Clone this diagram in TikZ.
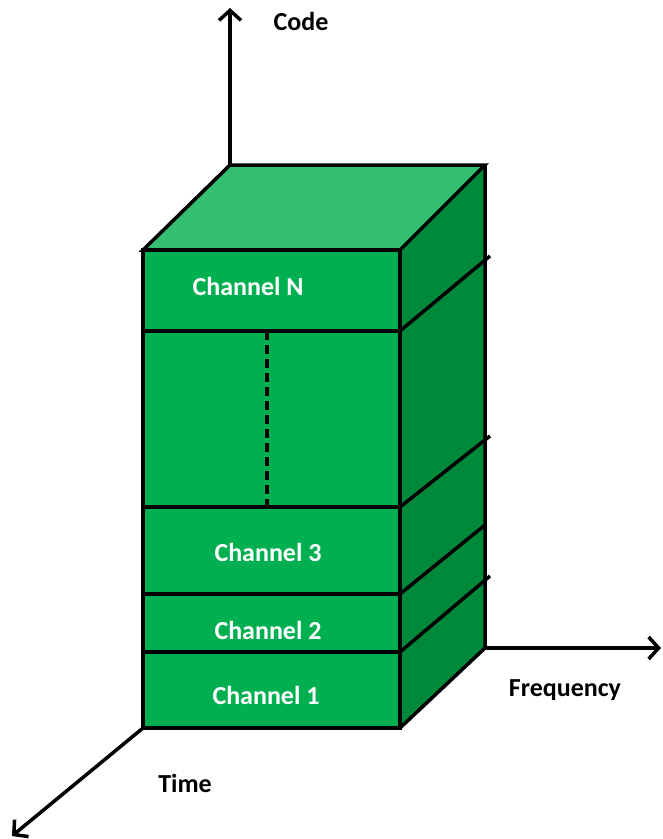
\documentclass[tikz,border=0pt]{standalone}
\usepackage{fontspec}
\setmainfont{Carlito}
\usetikzlibrary{arrows.meta}
\definecolor{frontgreen}{HTML}{00B050}
\definecolor{topgreen}{HTML}{35BD70}
\definecolor{sidegreen}{HTML}{00893A}
\tikzset{
  edge/.style={draw=black, line width=3.5pt},
  axis/.style={black, line width=3.5pt, -{Straight Barb[length=10pt,width=22pt,line width=3.5pt]}},
  chan/.style={text=white, font=\fontsize{26}{30}\selectfont\bfseries, inner sep=0pt},
  axlabel/.style={text=black, font=\fontsize{26}{30}\selectfont\bfseries, inner sep=0pt},
}
\begin{document}
\begin{tikzpicture}[x=1pt, y=-1pt]
\useasboundingbox (0,0) rectangle (663,839);

% corners of the block
\coordinate (ftl) at (143,250);
\coordinate (ftr) at (400,250);
\coordinate (fbr) at (400,728);
\coordinate (fbl) at (143,728);
\coordinate (btl) at (230,165);
\coordinate (btr) at (485,165);
\coordinate (bbr) at (485,648);

% axis ends
\coordinate (codeEnd) at (230,8);
\coordinate (freqEnd) at (661,648);
\coordinate (timeEnd) at (12,836);

% faces
\fill[topgreen] (ftl) -- (btl) -- (btr) -- (ftr) -- cycle;
\fill[sidegreen] (ftr) -- (btr) -- (bbr) -- (fbr) -- cycle;
\fill[frontgreen] (ftl) rectangle (fbr);

% channel boundaries on the front face
\coordinate (l1) at (143,331);  \coordinate (r1) at (400,331);
\coordinate (l2) at (143,507);  \coordinate (r2) at (400,507);
\coordinate (l3) at (143,594);  \coordinate (r3) at (400,594);
\coordinate (l4) at (143,652);  \coordinate (r4) at (400,652);
\draw[edge] (l1) -- (r1);
\draw[edge] (l2) -- (r2);
\draw[edge] (l3) -- (r3);
\draw[edge] (l4) -- (r4);

% dashed separator between Channel N and Channel 3
\coordinate (d1) at (267,331);
\coordinate (d2) at (267,507);
\draw[edge, dash pattern=on 9pt off 5pt] (d1) -- (d2);

% channel boundaries on the side face
\coordinate (s1) at (490,256);
\coordinate (s2) at (490,436);
\coordinate (s3) at (485,525);
\coordinate (s4) at (490,576);
\draw[edge] (r1) -- (s1);
\draw[edge] (r2) -- (s2);
\draw[edge] (r3) -- (s3);
\draw[edge] (r4) -- (s4);

% outlines
\draw[edge] (ftl) -- (btl) -- (btr) -- (ftr) -- cycle;
\draw[edge] (btr) -- (bbr) -- (fbr);
\draw[edge] (ftl) rectangle (fbr);

% axes
\draw[axis] (btl) -- (codeEnd);
\draw[axis] (bbr) -- (freqEnd);
\draw[axis] (fbl) -- (timeEnd);

% labels
\node[axlabel] (code) at (301,21) {Code};
\node[axlabel] (freq) at (565,690) {Frequency};
\node[axlabel] (time) at (185,783) {Time};
\node[chan] (chN) at (248,286) {Channel N};
\node[chan] (ch3) at (268,552) {Channel 3};
\node[chan] (ch2) at (268,630) {Channel 2};
\node[chan] (ch1) at (266,695) {Channel 1};
\end{tikzpicture}
\end{document}
